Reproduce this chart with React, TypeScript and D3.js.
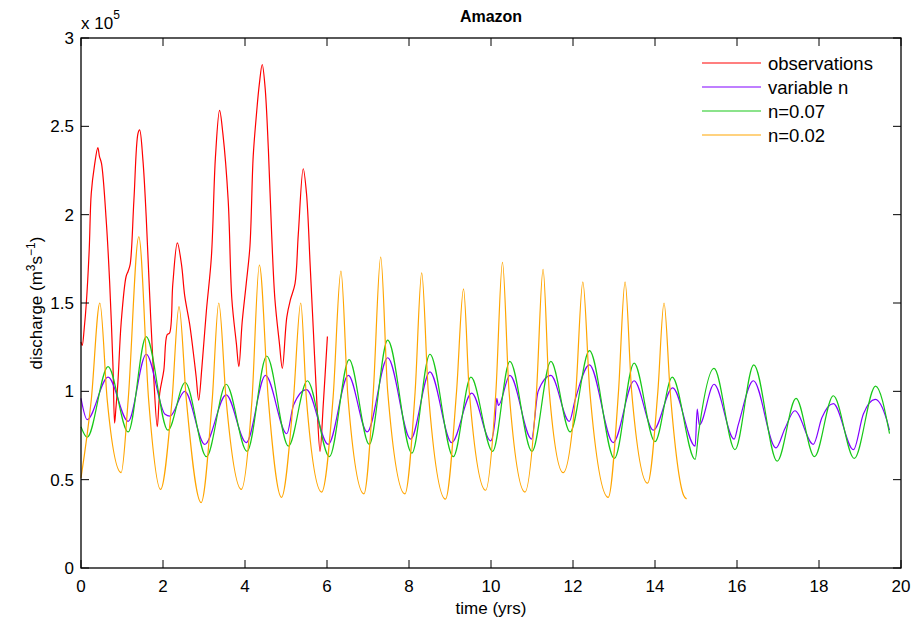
import React from 'react';
import * as d3 from 'd3';

// ---- Axis ticks ----
const xTicks = [0, 2, 4, 6, 8, 10, 12, 14, 16, 18, 20];
const yTicks = [0, 0.5, 1, 1.5, 2, 2.5, 3];
const yTickLabels = ['0', '0.5', '1', '1.5', '2', '2.5', '3'];

// ---- observations (x 1e5 m3/s) ----
const obsT = [0.0, 0.03, 0.08, 0.13, 0.2, 0.25, 0.33, 0.41, 0.45, 0.5, 0.62, 0.7, 0.78, 0.82, 0.85, 0.9, 0.98, 1.1, 1.15, 1.2, 1.29, 1.39, 1.43, 1.51, 1.59, 1.67, 1.76, 1.86, 1.92, 2.02, 2.1, 2.16, 2.24, 2.35, 2.45, 2.53, 2.65, 2.76, 2.81, 2.87, 2.95, 3.06, 3.18, 3.28, 3.38, 3.46, 3.59, 3.68, 3.79, 3.85, 3.93, 4.03, 4.12, 4.2, 4.28, 4.35, 4.42, 4.49, 4.57, 4.65, 4.73, 4.84, 4.91, 5.02, 5.11, 5.22, 5.3, 5.42, 5.5, 5.59, 5.67, 5.75, 5.83, 5.91, 6.01];
const obsV = [1.28, 1.26, 1.36, 1.5, 1.8, 2.12, 2.28, 2.38, 2.33, 2.29, 1.95, 1.61, 1.14, 0.82, 0.9, 1.05, 1.39, 1.65, 1.68, 1.72, 2.08, 2.46, 2.48, 2.31, 1.99, 1.57, 1.14, 0.8, 0.99, 1.12, 1.32, 1.33, 1.61, 1.84, 1.72, 1.54, 1.38, 1.18, 1.08, 0.95, 1.14, 1.46, 1.76, 2.33, 2.59, 2.46, 2.08, 1.52, 1.27, 1.14, 1.39, 1.61, 1.82, 2.33, 2.57, 2.74, 2.85, 2.72, 2.37, 1.89, 1.52, 1.27, 1.13, 1.42, 1.52, 1.61, 1.89, 2.26, 2.12, 1.71, 1.33, 0.95, 0.66, 0.93, 1.31];

// ---- variable n ----
const varT = [0.0, 0.15, 0.66, 1.15, 1.59, 2.05, 2.17, 2.53, 3.02, 3.54, 4.03, 4.5, 5.02, 5.18, 5.5, 6.03, 6.52, 6.98, 7.48, 8.04, 8.51, 9.04, 9.53, 9.99, 10.1, 10.14, 10.18, 10.46, 10.99, 11.15, 11.46, 11.91, 12.05, 12.4, 12.98, 13.49, 13.96, 14.43, 14.98, 15.03, 15.08, 15.44, 15.93, 16.03, 16.4, 16.95, 17.17, 17.41, 17.86, 18.07, 18.35, 18.84, 19.08, 19.37, 19.65, 19.72];
const varV = [0.96, 0.84, 1.08, 0.83, 1.21, 0.87, 0.86, 1.0, 0.7, 0.98, 0.71, 1.09, 0.76, 0.92, 1.01, 0.7, 1.09, 0.77, 1.19, 0.73, 1.11, 0.71, 0.99, 0.72, 0.84, 0.96, 0.92, 1.09, 0.73, 1.0, 1.09, 0.83, 0.95, 1.15, 0.71, 1.06, 0.78, 1.02, 0.69, 0.9, 0.81, 1.04, 0.73, 0.81, 1.06, 0.68, 0.79, 0.89, 0.7, 0.85, 0.93, 0.67, 0.87, 0.955, 0.84, 0.78];

// ---- n = 0.07 ----
const n07T = [0.0, 0.15, 0.66, 1.15, 1.59, 2.12, 2.54, 3.06, 3.54, 4.05, 4.53, 5.06, 5.52, 6.06, 6.54, 7.03, 7.48, 8.07, 8.51, 9.08, 9.51, 10.04, 10.46, 11.0, 11.46, 11.93, 12.4, 13.01, 13.49, 14.0, 14.42, 14.98, 15.06, 15.44, 15.95, 16.41, 16.98, 17.44, 17.89, 18.35, 18.86, 19.38, 19.72];
const n07V = [0.8, 0.74, 1.14, 0.77, 1.31, 0.78, 1.05, 0.63, 1.04, 0.66, 1.2, 0.69, 1.06, 0.63, 1.18, 0.7, 1.29, 0.65, 1.21, 0.63, 1.08, 0.66, 1.17, 0.66, 1.17, 0.77, 1.23, 0.62, 1.16, 0.715, 1.08, 0.615, 0.76, 1.13, 0.67, 1.15, 0.605, 0.96, 0.63, 0.975, 0.62, 1.03, 0.76];

// ---- n = 0.02 ----
const n02T = [0.0, 0.25, 0.46, 0.64, 0.98, 1.15, 1.41, 1.65, 1.94, 2.22, 2.39, 2.57, 2.93, 3.2, 3.36, 3.54, 3.91, 4.17, 4.35, 4.57, 4.89, 5.18, 5.36, 5.5, 5.87, 6.15, 6.34, 6.51, 6.9, 7.13, 7.31, 7.48, 7.9, 8.15, 8.31, 8.47, 8.89, 9.16, 9.33, 9.47, 9.87, 10.12, 10.28, 10.44, 10.83, 11.11, 11.27, 11.42, 11.76, 12.07, 12.24, 12.41, 12.86, 13.11, 13.27, 13.43, 13.82, 14.07, 14.22, 14.37, 14.7, 14.77];
const n02V = [0.51, 0.95, 1.5, 0.95, 0.54, 0.95, 1.875, 0.95, 0.445, 0.95, 1.48, 0.95, 0.37, 0.95, 1.5, 0.95, 0.445, 0.95, 1.715, 0.95, 0.4, 0.95, 1.5, 0.95, 0.43, 0.97, 1.68, 0.97, 0.42, 1.0, 1.76, 1.0, 0.42, 1.0, 1.67, 1.0, 0.39, 1.0, 1.58, 1.0, 0.44, 1.0, 1.73, 1.0, 0.43, 1.0, 1.69, 1.0, 0.54, 1.0, 1.62, 1.0, 0.4, 1.0, 1.62, 1.0, 0.48, 1.0, 1.5, 1.0, 0.41, 0.39];

const legendNames = ['observations', 'variable n', 'n=0.07', 'n=0.02'];
const colors = ['#ff0000', '#8000ff', '#18c818', '#ffa500'];

const FONT = '"Liberation Sans", Arial, Helvetica, sans-serif';

function zip(t: number[], v: number[]): [number, number][] {
  return t.map((d, i) => [d, v[i]] as [number, number]);
}

export default function App() {
  const W = 915;
  const H = 625;
  const L = 81, R = 901, T = 38, B = 568;
  const x = d3.scaleLinear().domain([0, 20]).range([L, R]);
  const y = d3.scaleLinear().domain([0, 3]).range([B, T]);

  const rough = d3
    .line<[number, number]>()
    .x(d => x(d[0]))
    .y(d => y(d[1]))
    .curve(d3.curveCatmullRom.alpha(0.5));
  const smooth = d3
    .line<[number, number]>()
    .x(d => x(d[0]))
    .y(d => y(d[1]))
    .curve(d3.curveMonotoneX);

  const series = [
    { d: rough(zip(obsT, obsV)) || '', c: colors[0] },
    { d: smooth(zip(varT, varV)) || '', c: colors[1] },
    { d: smooth(zip(n07T, n07V)) || '', c: colors[2] },
    { d: smooth(zip(n02T, n02V)) || '', c: colors[3] },
  ];

  const tick = 8;
  const fs = 17;
  const legendY = [63, 87, 111, 135];

  return (
    <svg
      width={W}
      height={H}
      style={{ position: 'absolute', left: 0, top: 0, background: '#fff' }}
      fontFamily={FONT}
    >
      <rect x={0} y={0} width={W} height={H} fill="#fff" />
      {/* data */}
      {series.map((s, i) => (
        <path key={i} d={s.d} fill="none" stroke={s.c} strokeWidth={1.2} strokeLinejoin="round" />
      ))}

      {/* ticks */}
      {xTicks.map(t => (
        <g key={'xt' + t}>
          <line x1={x(t)} x2={x(t)} y1={B} y2={B - tick} stroke="#000" strokeWidth={1} />
          <line x1={x(t)} x2={x(t)} y1={T} y2={T + tick} stroke="#000" strokeWidth={1} />
          <text x={x(t)} y={B + 24} textAnchor="middle" fontSize={fs}>
            {String(t)}
          </text>
        </g>
      ))}
      {yTicks.map((t, i) => (
        <g key={'yt' + t}>
          <line x1={L} x2={L + tick} y1={y(t)} y2={y(t)} stroke="#000" strokeWidth={1} />
          <line x1={R} x2={R - tick} y1={y(t)} y2={y(t)} stroke="#000" strokeWidth={1} />
          <text x={L - 7} y={y(t) + 6} textAnchor="end" fontSize={fs}>
            {yTickLabels[i]}
          </text>
        </g>
      ))}

      {/* frame */}
      <rect x={L} y={T} width={R - L} height={B - T} fill="none" stroke="#000" strokeWidth={1.3} />

      {/* exponent */}
      <text x={81} y={29} fontSize={fs}>
        x 10
        <tspan dy={-10} fontSize={12}>5</tspan>
      </text>

      {/* title */}
      <text x={(L + R) / 2} y={22} textAnchor="middle" fontSize={16} fontWeight="bold">
        Amazon
      </text>

      {/* x label */}
      <text x={(L + R) / 2} y={614} textAnchor="middle" fontSize={fs}>
        time (yrs)
      </text>

      {/* y label */}
      <text transform={`translate(42,${(T + B) / 2}) rotate(-90)`} textAnchor="middle" fontSize={fs}>
        discharge (m
        <tspan dy={-7} fontSize={12}>3</tspan>
        <tspan dy={7}>s</tspan>
        <tspan dy={-7} fontSize={12}>−1</tspan>
        <tspan dy={7}>)</tspan>
      </text>

      {/* legend */}
      {legendNames.map((n, i) => (
        <g key={n}>
          <line x1={702} x2={761} y1={legendY[i]} y2={legendY[i]} stroke={colors[i]} strokeWidth={1.2} />
          <text x={768} y={legendY[i] + 6.5} fontSize={18.5}>
            {n}
          </text>
        </g>
      ))}
    </svg>
  );
}
